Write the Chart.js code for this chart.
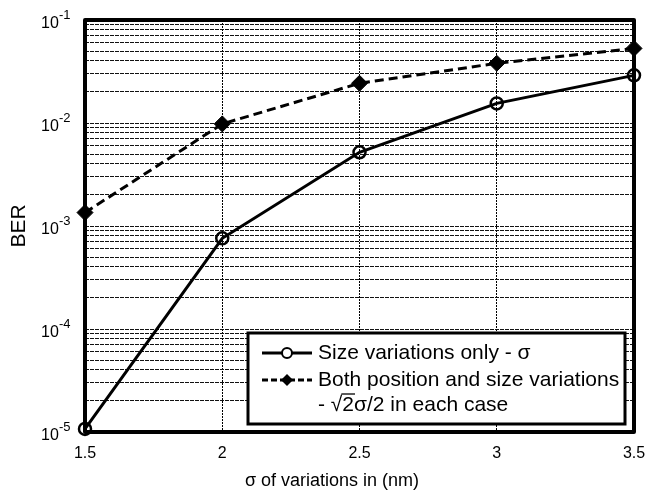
<!DOCTYPE html>
<html>
<head>
<meta charset="utf-8">
<script src="https://cdn.jsdelivr.net/npm/chart.js@4.4.0/dist/chart.umd.min.js"></script>
<style>
  html, body { margin: 0; padding: 0; background: #fff; }
  #wrap { width: 647px; height: 495px; position: relative; }
</style>
</head>
<body>
<div id="wrap"><canvas id="berChart"></canvas></div>
<script>
// data
const sigmaValues = [1.5, 2, 2.5, 3, 3.5];
const berSizeOnly = [1.07e-5, 7.6e-4, 5.2e-3, 0.0155, 0.029];
const berBoth = [1.35e-3, 9.8e-3, 0.0243, 0.038, 0.053];

const decadeTicks = [1e-5, 1e-4, 1e-3, 1e-2, 1e-1];
const decadeExponents = ['-5', '-4', '-3', '-2', '-1'];
const minorMultipliers = [2, 3, 4, 5, 6, 7, 8, 9];
const xTickLabels = ['1.5', '2', '2.5', '3', '3.5'];
const xTitle = 'σ of variations in (nm)';

const legendLines = [
  'Size variations only - σ',
  'Both position and size variations',
  'in each case'
];

const FONT = '"Liberation Sans", Arial, sans-serif';

function toPoints(ys) {
  return sigmaValues.map((x, i) => ({ x: x, y: ys[i] }));
}

// every decade plus its 2..9 minors, for the grid
const yGridTicks = [];
decadeTicks.forEach((d, i) => {
  yGridTicks.push(d);
  if (i < decadeTicks.length - 1) {
    minorMultipliers.forEach(m => yGridTicks.push(d * m));
  }
});

const overlay = {
  id: 'overlay',
  beforeDatasetsDraw(chart) {
    // thick frame, under the markers
    const ctx = chart.ctx;
    const a = chart.chartArea;
    ctx.save();
    ctx.strokeStyle = '#000';
    ctx.lineWidth = 4;
    ctx.lineJoin = 'round';
    ctx.strokeRect(a.left, a.top, a.right - a.left, a.bottom - a.top);
    ctx.restore();
  },
  afterDraw(chart) {
    const ctx = chart.ctx;
    const yS = chart.scales.y;
    ctx.save();
    ctx.fillStyle = '#000';
    ctx.strokeStyle = '#000';

    // y decade labels with superscripts
    decadeTicks.forEach((v, i) => {
      const y = yS.getPixelForValue(v);
      ctx.textBaseline = 'middle';
      ctx.textAlign = 'left';
      ctx.font = '16px ' + FONT;
      ctx.fillText('10', 41, y + 4);
      ctx.font = '13px ' + FONT;
      ctx.fillText(decadeExponents[i], 59, y - 5);
    });

    // x title (sits a bit left of the plot centre in the original)
    ctx.font = '18px ' + FONT;
    ctx.textAlign = 'center';
    ctx.textBaseline = 'middle';
    ctx.fillText(xTitle, 332, 481);

    // legend box
    const bx = 248, by = 333, bw = 377, bh = 91;
    ctx.fillStyle = '#fff';
    ctx.fillRect(bx, by, bw, bh);
    ctx.lineWidth = 3;
    ctx.strokeRect(bx, by, bw, bh);

    const rows = [353, 380, 405];
    const sx0 = 262, sx1 = 312, mx = 287;

    // row 1: solid + circle
    ctx.lineWidth = 3;
    ctx.setLineDash([]);
    ctx.beginPath();
    ctx.moveTo(sx0, rows[0]); ctx.lineTo(sx1, rows[0]);
    ctx.stroke();
    ctx.lineWidth = 2;
    ctx.beginPath();
    ctx.arc(mx, rows[0], 5, 0, Math.PI * 2);
    ctx.fillStyle = '#fff';
    ctx.fill();
    ctx.stroke();

    // row 2: dashed + diamond
    ctx.lineWidth = 3;
    ctx.setLineDash([6, 3]);
    ctx.beginPath();
    ctx.moveTo(sx0, rows[1]); ctx.lineTo(sx1, rows[1]);
    ctx.stroke();
    ctx.setLineDash([]);
    ctx.fillStyle = '#000';
    ctx.beginPath();
    ctx.moveTo(mx, rows[1] - 6);
    ctx.lineTo(mx + 6, rows[1]);
    ctx.lineTo(mx, rows[1] + 6);
    ctx.lineTo(mx - 6, rows[1]);
    ctx.closePath();
    ctx.fill();

    // text
    ctx.font = '21px ' + FONT;
    ctx.textAlign = 'left';
    ctx.textBaseline = 'middle';
    ctx.fillText(legendLines[0], 318, rows[0]);
    ctx.fillText(legendLines[1], 318, rows[1]);

    // third line: - sqrt(2) sigma / 2 in each case
    let x = 318;
    ctx.fillText('- ', x, rows[2]);
    x += ctx.measureText('- ').width;
    ctx.fillText('√', x, rows[2]);
    x += ctx.measureText('√').width;
    const w2 = ctx.measureText('2').width;
    ctx.lineWidth = 1.3;
    ctx.beginPath();
    ctx.moveTo(x - 1, rows[2] - 11);
    ctx.lineTo(x + w2 + 1, rows[2] - 11);
    ctx.stroke();
    ctx.fillText('2σ/2 ', x, rows[2]);
    x += ctx.measureText('2σ/2 ').width;
    ctx.fillText(legendLines[2], x, rows[2]);

    ctx.restore();
  }
};

const chart = new Chart(document.getElementById('berChart'), {
  type: 'line',
  data: {
    datasets: [
      {
        label: 'Size variations only',
        data: toPoints(berSizeOnly),
        borderColor: '#000',
        borderWidth: 3,
        pointStyle: 'circle',
        pointRadius: 6,
        pointBorderWidth: 2.5,
        pointBorderColor: '#000',
        pointBackgroundColor: 'rgba(0,0,0,0)',
        tension: 0,
        clip: false
      },
      {
        label: 'Both position and size variations',
        data: toPoints(berBoth),
        borderColor: '#000',
        borderWidth: 3,
        borderDash: [9, 5],
        pointStyle: 'rectRot',
        pointRadius: 8,
        pointBorderWidth: 1,
        pointBorderColor: '#000',
        pointBackgroundColor: '#000',
        tension: 0,
        clip: false
      }
    ]
  },
  options: {
    responsive: true,
    maintainAspectRatio: false,
    animation: false,
    layout: { padding: { top: 20, right: 0, left: 0, bottom: 0 } },
    plugins: {
      legend: { display: false },
      tooltip: { enabled: false }
    },
    scales: {
      x: {
        type: 'linear',
        min: 1.5,
        max: 3.5,
        afterBuildTicks: scale => {
          scale.ticks = sigmaValues.map(v => ({ value: v }));
        },
        ticks: {
          color: '#000',
          font: { family: FONT, size: 16 },
          padding: 12,
          maxRotation: 0,
          callback: (v, i) => xTickLabels[i]
        },
        grid: {
          color: '#000',
          lineWidth: 1,
          drawTicks: false
        },
        border: { display: false, dash: [2, 1] },
        title: { display: false },
        afterFit: scale => {
          scale.height = 63;
          scale.paddingLeft = 0;
          scale.paddingRight = 13;
        }
      },
      y: {
        type: 'logarithmic',
        min: 1e-5,
        max: 1e-1,
        afterBuildTicks: scale => {
          scale.ticks = yGridTicks.map(v => ({ value: v }));
        },
        ticks: {
          autoSkip: false,
          callback: () => ''
        },
        grid: {
          color: '#111',
          lineWidth: 1,
          drawTicks: false
        },
        border: { display: false, dash: [4, 1] },
        title: {
          display: true,
          text: 'BER',
          color: '#000',
          font: { family: FONT, size: 21 },
          padding: { top: 7, bottom: 0 }
        },
        afterFit: scale => { scale.width = 85; }
      }
    }
  },
  plugins: [overlay]
});
</script>
</body>
</html>
